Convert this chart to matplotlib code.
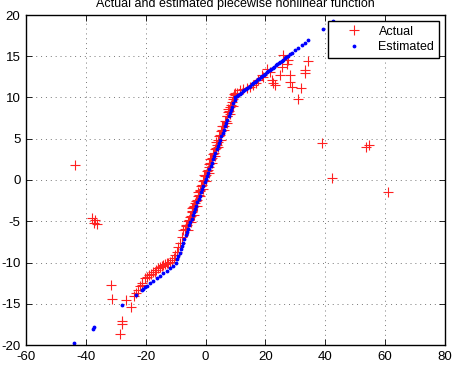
''' Actual vs estimated piecewise nonlinear function. '''

import matplotlib
matplotlib.use('Agg')
from matplotlib import pyplot as plt

plt.rcParams['font.family'] = ['Liberation Sans', 'DejaVu Sans']
plt.rcParams['axes.unicode_minus'] = False

# Estimated (blue dots).
est_x = [-43.9, -37.7, -37.2, -27.8, -23.4, -21.1, -20.8, -20.2, -19.6, -18.6,
	-17.5, -16.3, -15.2, -14.1, -13.0, -12.0, -11.0, -9.9,
	-9.5, -9.1, -8.7, -8.3, -7.9, -7.5, -7.1, -6.7, -6.3, -5.9, -5.5, -5.1,
	-4.7, -4.3, -3.9, -3.5, -3.1, -2.7, -2.3, -1.9, -1.5, -1.1, -0.7, -0.3,
	0.1, 0.5, 0.9, 1.3, 1.7, 2.1, 2.5, 2.9, 3.3, 3.7, 4.1, 4.5, 4.9, 5.3,
	5.7, 6.1, 6.5, 6.9, 7.3, 7.7, 8.1, 8.5, 8.9, 9.3, 9.7, 10.0,
	10.5, 11.0, 11.5, 12.0, 12.5, 13.0, 13.5, 14.0, 14.5, 15.0, 15.5, 16.0,
	16.5, 17.0, 17.5, 18.0, 18.5, 19.0, 19.5, 20.0, 20.5, 21.0, 21.5, 22.0,
	22.5, 23.0, 23.5, 24.0, 24.5, 25.0, 25.5, 26.0, 26.5, 27.0, 27.5, 28.2,
	29.0, 29.8, 31.0, 32.1, 33.2, 34.3, 39.1, 42.5]
est_y = [-19.7, -18.0, -17.8, -15.2, -13.9, -13.3, -13.2, -13.0, -12.8, -12.5,
	-12.2, -11.9, -11.6, -11.3, -11.0, -10.7, -10.4, -10.0,
	-9.6, -9.2, -8.8, -8.4, -8.0, -7.6, -7.1, -6.7, -6.3, -5.9, -5.5, -5.1,
	-4.7, -4.3, -3.9, -3.5, -3.1, -2.7, -2.3, -1.9, -1.5, -1.1, -0.7, -0.3,
	0.1, 0.5, 0.9, 1.3, 1.7, 2.1, 2.5, 2.9, 3.3, 3.7, 4.1, 4.5, 4.9, 5.3,
	5.7, 6.1, 6.5, 6.9, 7.3, 7.7, 8.1, 8.5, 8.9, 9.3, 9.7, 10.0,
	10.15, 10.3, 10.45, 10.6, 10.75, 10.9, 11.05, 11.2, 11.3, 11.45, 11.6, 11.75,
	11.9, 12.05, 12.2, 12.3, 12.45, 12.6, 12.75, 12.9, 13.05, 13.2, 13.3, 13.45,
	13.6, 13.75, 13.9, 14.05, 14.2, 14.3, 14.45, 14.6, 14.75, 14.9, 15.05, 15.25,
	15.45, 15.7, 16.0, 16.35, 16.65, 16.95, 18.35, 19.3]

# Actual (red crosses).
act_x = [-43.7, -37.8, -37.2, -36.4, -36.8, -31.6, -31.4, -26.6, -24.9, -28.0,
	-28.0, -28.6,
	-23.8, -23.2, -22.5, -21.9, -21.3, -21.3, -20.2, -19.7, -19.0, -18.3,
	-17.5, -17.0, -16.5, -15.8, -15.2, -14.6, -14.1, -13.5, -13.0, -12.4,
	-11.8, -11.3, -10.7, -10.2, -9.7, -9.1, -8.6, -8.0, -7.4,
	-6.8, -6.5, -6.2, -5.9, -5.6, -5.3, -5.0, -4.7, -4.4, -4.1, -3.8, -3.5,
	-3.2, -2.9, -2.6, -2.3, -2.0, -1.7, -1.4, -1.1, -0.8, -0.5, -0.2, 0.1,
	0.4, 0.7, 1.0, 1.3, 1.6, 1.9, 2.2, 2.5, 2.8, 3.1, 3.4, 3.7, 4.0, 4.3,
	4.6, 4.9, 5.2, 5.5, 5.8, 6.1, 6.4, 6.7, 7.0, 7.3, 7.6, 7.9, 8.2, 8.5,
	8.8, 9.1, 9.4, 9.7, 10.0,
	-6.0, -5.0, -4.0, -3.0, -2.0, -1.0, 0.0, 1.0, 2.0, 3.0, 4.0, 5.0, 6.0,
	7.0, 8.0, 9.0, -6.6, -4.5, -2.5, -0.6, 1.5, 3.5, 5.5, 7.5, 9.5,
	9.3, 10.5, 11.5, 12.5, 13.7, 14.8, 15.9, 16.8, 17.6, 18.7, 19.3, 20.4,
	21.5, 22.1, 22.6, 23.2, 24.9, 25.4, 26.0, 27.6, 27.3, 28.2, 28.2, 28.8,
	30.8, 31.9, 33.2, 33.2, 34.3,
	39.0, 42.3, 53.5, 54.6, 61.1]
act_y = [1.8, -4.6, -5.2, -5.3, -4.9, -12.7, -14.4, -14.5, -15.4, -17.1,
	-17.5, -18.7,
	-14.1, -13.7, -13.3, -12.9, -12.5, -12.7, -11.9, -11.7, -11.5, -11.4,
	-11.1, -11.2, -10.9, -10.7, -10.6, -10.4, -10.3, -10.2, -10.1, -10.0,
	-9.9, -9.7, -9.4, -9.1, -8.7, -8.1, -7.6, -6.9, -6.1,
	-6.0, -5.6, -5.5, -5.0, -4.9, -4.5, -4.4, -3.9, -3.8, -3.3, -3.2, -2.8,
	-2.5, -2.4, -1.9, -1.8, -1.3, -1.2, -0.7, -0.6, -0.1, 0.0, 0.5, 0.6,
	1.1, 1.2, 1.6, 1.9, 2.1, 2.6, 2.7, 3.2, 3.3, 3.8, 3.9, 4.3, 4.6, 4.8,
	5.3, 5.4, 5.9, 6.0, 6.5, 6.6, 7.1, 7.2, 7.7, 7.8, 8.3, 8.4, 8.9, 9.1,
	9.5, 9.8, 10.1, 10.3, 10.5,
	-6.1, -5.1, -4.2, -3.1, -2.0, -1.1, -0.1, 0.9, 2.0, 2.9, 4.0, 4.9, 6.0,
	6.9, 8.0, 9.0, -5.4, -3.4, -1.4, 0.6, 2.6, 4.6, 6.6, 8.6, 10.4,
	10.1, 10.6, 10.9, 11.0, 11.1, 11.3, 11.5, 11.8, 12.1, 12.7, 12.5, 13.5,
	13.1, 12.1, 11.8, 11.5, 12.7, 13.7, 15.2, 14.5, 14.1, 12.7, 11.9, 11.3,
	9.8, 11.2, 13.3, 13.0, 14.4,
	4.5, 0.3, 4.0, 4.2, -1.5]

xticks = [-60, -40, -20, 0, 20, 40, 60, 80]
yticks = [-20, -15, -10, -5, 0, 5, 10, 15, 20]

fig = plt.figure(figsize=(4.53, 3.76), dpi=100)
ax = fig.add_axes([26/453, 1-345/376, 419/453, 330/376])

ax.plot(act_x, act_y, '+', color='#ff2020', markeredgecolor='#ff2020',
	markersize=7, markeredgewidth=0.8, label='Actual')
ax.plot(est_x, est_y, '.', color='#0000ff', markersize=3.5, label='Estimated')

ax.set_xlim(-60, 80)
ax.set_ylim(-20, 20)
ax.set_xticks(xticks)
ax.set_yticks(yticks)
ax.tick_params(direction='in', length=4, width=0.6, labelsize=9.5, pad=4,
	top=True, right=True)
ax.grid(True, linestyle=(0, (1, 4)), color='#777777', linewidth=0.7)
for s in ax.spines.values():
	s.set_linewidth(1.0)

fig.text(235.5/453, 1-4/376, 'Actual and estimated piecewise nonlinear function',
	ha='center', va='center', fontsize=9)

leg = ax.legend(loc='upper right', fontsize=9, fancybox=False, framealpha=1,
	edgecolor='black', borderaxespad=0.5, handlelength=3.5, handletextpad=0.2,
	borderpad=0.35, labelspacing=0.3)
leg.get_frame().set_linewidth(1.0)

fig.savefig('out.png', dpi=100)
